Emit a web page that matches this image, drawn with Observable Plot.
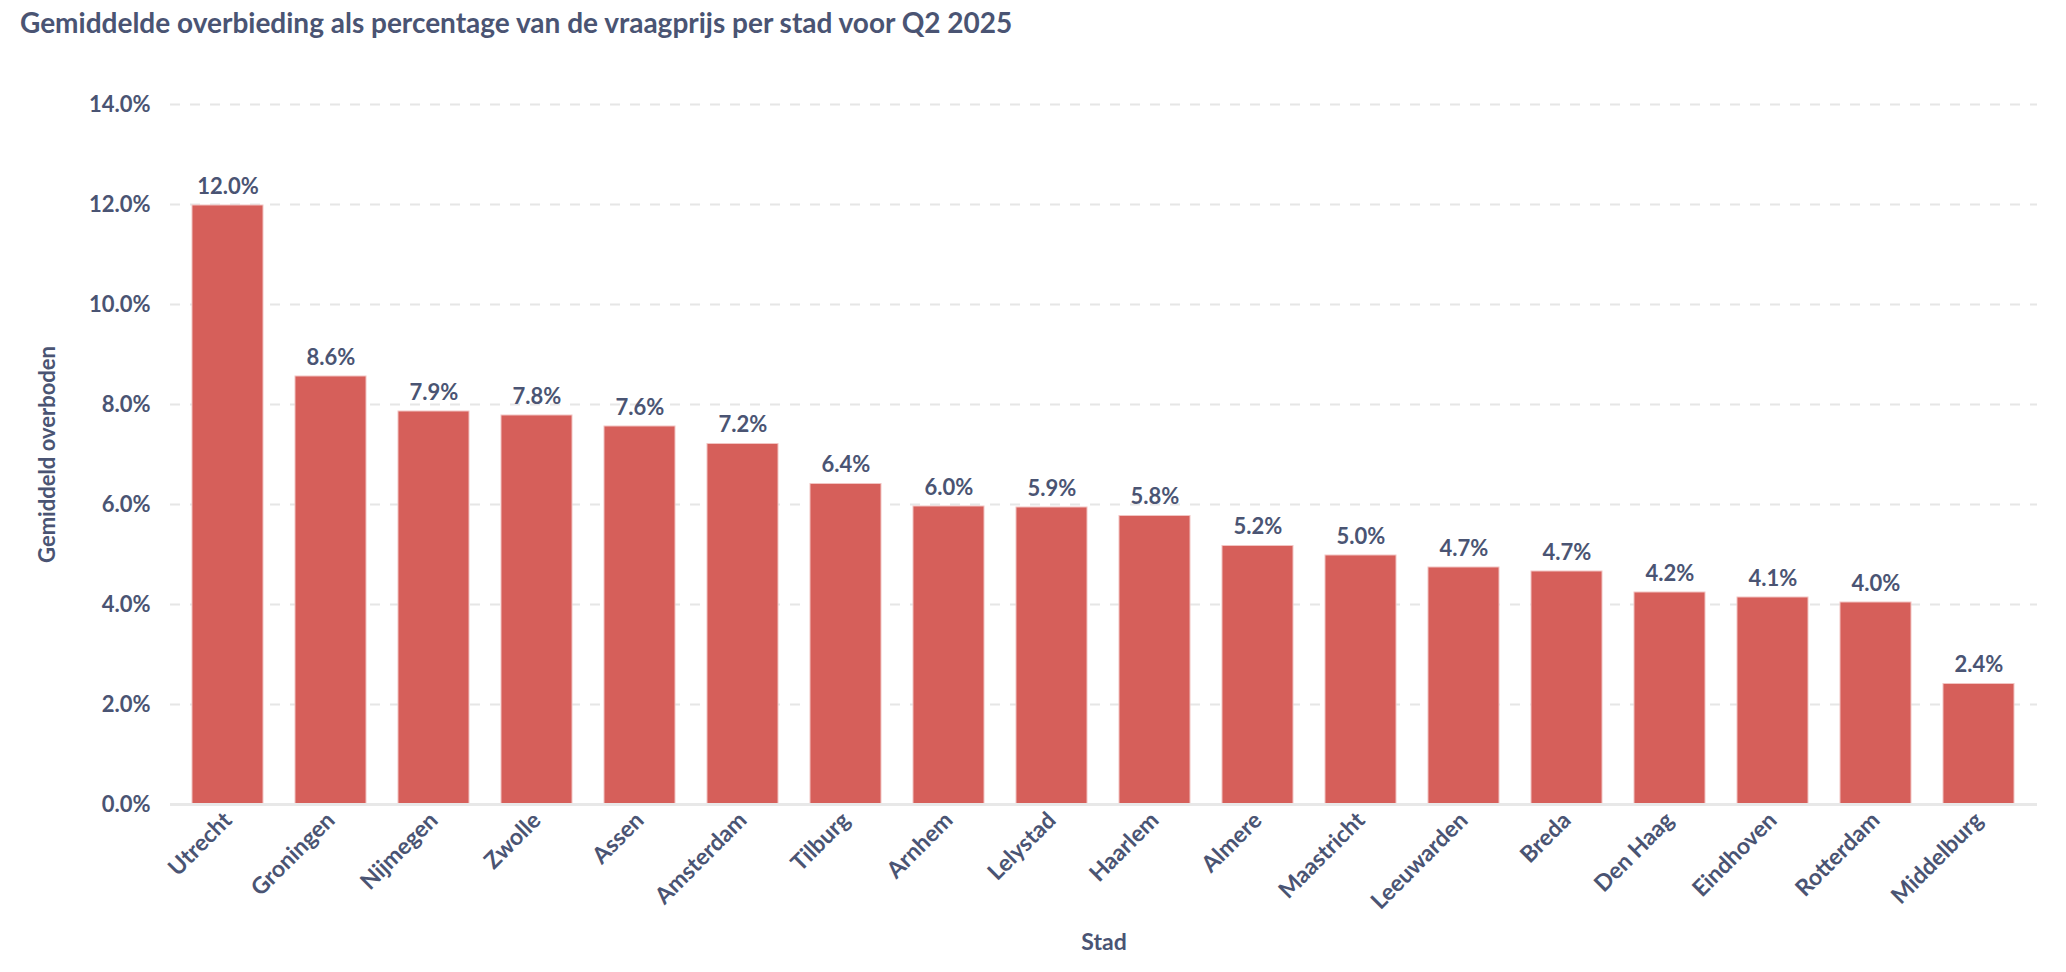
<!DOCTYPE html>
<html>
<head>
<meta charset="utf-8">
<script src="https://cdn.jsdelivr.net/npm/d3@7"></script>
<script src="https://cdn.jsdelivr.net/npm/@observablehq/plot@0.6"></script>
<style>
html, body { margin: 0; padding: 0; background: #fff; overflow: hidden; }
#title { font-family: Lato, sans-serif; font-weight: 700; font-size: 28px; color: #4a5473;
  height: 42px; padding: 8px 0 0 20px; line-height: 1; white-space: nowrap; box-sizing: content-box; }
#chart svg { display: block; }
</style>
</head>
<body>
<div id="title">Gemiddelde overbieding als percentage van de vraagprijs per stad voor Q2 2025</div>
<div id="chart"></div>
<script>
const cities = ["Utrecht", "Groningen", "Nijmegen", "Zwolle", "Assen", "Amsterdam", "Tilburg", "Arnhem", "Lelystad",
  "Haarlem", "Almere", "Maastricht", "Leeuwarden", "Breda", "Den Haag", "Eindhoven", "Rotterdam", "Middelburg"];
const values = [11.98, 8.56, 7.86, 7.78, 7.56, 7.21, 6.41, 5.96, 5.94, 5.77, 5.17, 4.98, 4.74, 4.66, 4.24, 4.14, 4.04, 2.41];
const yTicks = [0, 2, 4, 6, 8, 10, 12, 14];
const xLabel = "Stad";
const yLabel = "Gemiddeld overboden";

const data = cities.map((c, i) => ({city: c, value: values[i]}));
const textColor = "#4a5473";
const pct = d => d.toFixed(1) + "%";

const chart = Plot.plot({
  width: 2066,
  height: 922,
  marginTop: 54,
  marginBottom: 168,
  marginLeft: 170,
  marginRight: 29,
  style: {fontFamily: "Lato, sans-serif", fontSize: "22px", color: textColor, background: "#fff"},
  x: {domain: cities, paddingInner: 0.31, paddingOuter: 0.155},
  y: {domain: [0, 14]},
  marks: [
    Plot.gridY(yTicks.filter(t => t > 0), {stroke: "#e6e6e6", strokeOpacity: 1, strokeWidth: 2, strokeDasharray: "10,10"}),
    Plot.barY(data, {x: "city", y: "value", fill: "#d65f5a", stroke: "#f2c4c2", strokeWidth: 1}),
    Plot.ruleY([0], {stroke: "#e8e8e8", strokeWidth: 3}),
    Plot.text(data, {x: "city", y: "value", text: d => pct(d.value), lineAnchor: "bottom", dy: -12,
      fontSize: 22, fontWeight: 700, fill: textColor}),
    Plot.axisY(yTicks, {tickSize: 0, tickPadding: 20, tickFormat: pct, fontSize: 22, fontWeight: 700,
      label: yLabel, labelAnchor: "center", labelOffset: 131, labelArrow: "none"}),
    Plot.axisX({tickSize: 0, tickPadding: 12, tickRotate: -45, fontSize: 23, fontWeight: 700,
      label: xLabel, labelAnchor: "center", labelOffset: 145, labelArrow: "none"})
  ]
});
document.getElementById("chart").appendChild(chart);
</script>
</body>
</html>
